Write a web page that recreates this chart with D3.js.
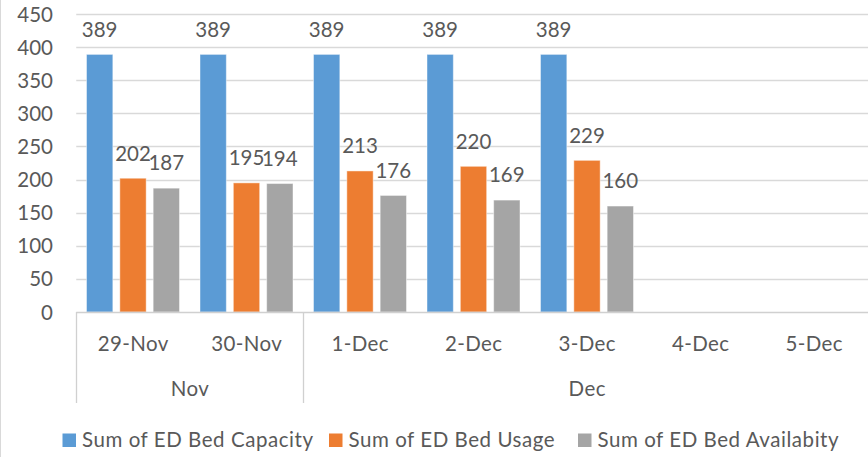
<!DOCTYPE html>
<html>
<head>
<meta charset="utf-8">
<script src="https://cdn.jsdelivr.net/npm/d3@7"></script>
<style>
  html, body { margin: 0; padding: 0; background: #fff; }
  svg { display: block; }
  text { font-family: Lato, "Open Sans", sans-serif; fill: #595959; }
</style>
</head>
<body>
<svg id="chart" width="868" height="457"></svg>
<script>
// ---- data ----
const days = ["29-Nov", "30-Nov", "1-Dec", "2-Dec", "3-Dec", "4-Dec", "5-Dec"];
const months = ["Nov", "Nov", "Dec", "Dec", "Dec", "Dec", "Dec"];
const seriesNames = ["Sum of ED Bed Capacity", "Sum of ED Bed Usage", "Sum of ED Bed Availabity"];
const capacity = [389, 389, 389, 389, 389, null, null];
const usage = [202, 195, 213, 220, 229, null, null];
const availability = [187, 194, 176, 169, 160, null, null];
const yTicks = [0, 50, 100, 150, 200, 250, 300, 350, 400, 450];

const seriesValues = [capacity, usage, availability];
const colors = ["#5B9BD5", "#ED7D31", "#A5A5A5"];

// ---- layout ----
const svg = d3.select("#chart");
const W = 868, H = 457;
const plotL = 76.25, plotR = 870.75, plotT = 14, plotB = 312;
const fs = 20.5;

const x = d3.scaleBand().domain(days).range([plotL, plotR]).paddingInner(0).paddingOuter(0);
const bw = x.bandwidth();
const xi = d3.scaleBand().domain(seriesNames).range([bw * 0.0903, bw * 0.9097]).paddingInner(0.21).paddingOuter(0);
const y = d3.scaleLinear().domain([0, 450]).range([plotB, plotT]);

// chart border (left edge)
svg.append("line").attr("x1", 0.5).attr("x2", 0.5).attr("y1", 0).attr("y2", H)
  .attr("stroke", "#D9D9D9").attr("stroke-width", 1);

// gridlines
svg.append("g").selectAll("line").data(yTicks.filter(d => d > 0)).join("line")
  .attr("x1", plotL).attr("x2", plotR)
  .attr("y1", d => Math.round(y(d)) + 0.5).attr("y2", d => Math.round(y(d)) + 0.5)
  .attr("stroke", "#D9D9D9").attr("stroke-width", 1.3);

// y tick labels
svg.append("g").selectAll("text").data(yTicks).join("text")
  .attr("x", 53).attr("y", d => y(d) + 7.5)
  .attr("text-anchor", "end").attr("font-size", fs)
  .text(d => d);

// bars
const table = [];
days.forEach((d, i) => seriesNames.forEach((s, j) => {
  if (seriesValues[j][i] != null) table.push({ day: d, series: s, value: seriesValues[j][i], j });
}));

svg.append("g").selectAll("rect").data(table).join("rect")
  .attr("x", d => x(d.day) + xi(d.series))
  .attr("y", d => y(d.value))
  .attr("width", xi.bandwidth())
  .attr("height", d => y(0) - y(d.value))
  .attr("fill", d => colors[d.j])
  .attr("stroke", "#fff").attr("stroke-opacity", 0.45).attr("stroke-width", 1);

// data labels
svg.append("g").selectAll("text").data(table).join("text")
  .attr("x", d => x(d.day) + xi(d.series) + xi.bandwidth() / 2)
  .attr("y", d => y(d.value) - 17.7)
  .attr("text-anchor", "middle").attr("font-size", fs)
  .text(d => d.value);

// category axis line
svg.append("line").attr("x1", plotL).attr("x2", plotR)
  .attr("y1", plotB + 0.5).attr("y2", plotB + 0.5)
  .attr("stroke", "#D0D0D0").attr("stroke-width", 1.3);

// day labels
svg.append("g").selectAll("text").data(days).join("text")
  .attr("x", d => x(d) + bw / 2 + 0.2).attr("y", 350.7)
  .attr("text-anchor", "middle").attr("font-size", fs).attr("letter-spacing", 0.4)
  .text(d => d);

// month groups
const monthGroups = [];
months.forEach((m, i) => {
  const last = monthGroups[monthGroups.length - 1];
  if (last && last.name === m) last.end = i; else monthGroups.push({ name: m, start: i, end: i });
});
const boundaries = [plotL].concat(monthGroups.map(g => x(days[g.end]) + bw));
svg.append("g").selectAll("line").data(boundaries).join("line")
  .attr("x1", d => Math.round(d) + 0.5).attr("x2", d => Math.round(d) + 0.5)
  .attr("y1", plotB).attr("y2", 403)
  .attr("stroke", "#D0D0D0").attr("stroke-width", 1.3);
svg.append("g").selectAll("text").data(monthGroups).join("text")
  .attr("x", g => (x(days[g.start]) + x(days[g.end]) + bw) / 2 + 0.2).attr("y", 395.7)
  .attr("text-anchor", "middle").attr("font-size", fs).attr("letter-spacing", 0.4)
  .text(g => g.name);

// legend
const legendX = [62.5, 329, 578];
const lg = svg.append("g").selectAll("g").data(seriesNames).join("g")
  .attr("transform", (d, i) => `translate(${legendX[i]},0)`);
lg.append("rect").attr("x", 0).attr("y", 433.5).attr("width", 13.5).attr("height", 13.5)
  .attr("fill", (d, i) => colors[i]);
lg.append("text").attr("x", 19.5).attr("y", 447).attr("font-size", fs).attr("letter-spacing", 0.55).text(d => d);
</script>
</body>
</html>
